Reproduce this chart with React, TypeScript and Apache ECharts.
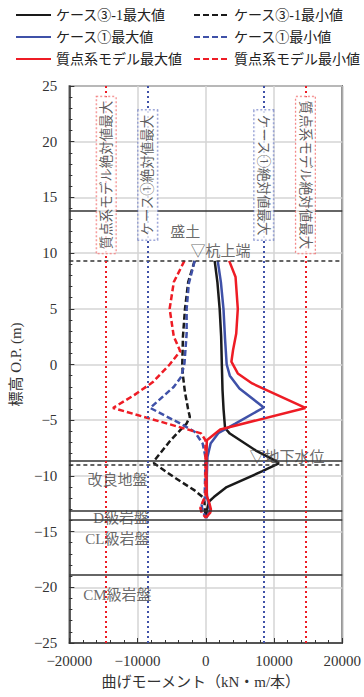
import React, { useEffect, useRef } from "react";
import * as echarts from "echarts";

// ---- Data ----
const xTicks = [-20000, -10000, 0, 10000, 20000];
const yTicks = [-25, -20, -15, -10, -5, 0, 5, 10, 15, 20, 25];

// ケース③-1
const case31MaxDepth = [9.3, 7.4, 5.0, 2.5, 0, -2.3, -4.0, -5.7, -6.2, -7.7, -8.6, -8.87, -9.6, -11.0, -11.9, -12.3, -13.0, -13.7];
const case31MaxValue = [1300, 1700, 2030, 2250, 2350, 2450, 2600, 2820, 3520, 7280, 10100, 10700, 8220, 3060, 1180, 470, 200, 0];
const case31MinDepth = [9.3, 7.4, 5.0, 2.5, 0, -1.0, -2.5, -4.0, -4.7, -5.3, -6.8, -8.6, -8.87, -10.1, -11.3, -11.9, -12.3, -13.0, -13.7];
const case31MinValue = [-1640, -2580, -3050, -3350, -3450, -3350, -3050, -2600, -2340, -2820, -5160, -7510, -7600, -4690, -1640, -460, -200, -150, 0];

// ケース①
const case1MaxDepth = [9.3, 7.4, 5.0, 2.3, 0, -1.0, -2.15, -3.86, -5.3, -6.13, -7.1, -8.3, -10, -11.5, -12.0, -12.6, -13.1, -13.8];
const case1MaxValue = [1750, 2210, 2590, 2820, 3060, 3520, 4930, 8500, 4330, 1880, 700, 240, 150, 150, 200, 500, 650, 50];
const case1MinDepth = [9.3, 7.3, 5.0, 2.8, 0.1, -1.1, -2.0, -3.9, -5.3, -6.04, -7.1, -8.3, -10, -11.5, -12.0, -12.6, -13.1, -13.8];
const case1MinValue = [-1630, -2480, -2810, -2810, -3130, -3600, -4680, -8150, -3750, -1640, -460, -50, -100, -150, -150, -600, -500, 50];

// 質点系モデル
const massMaxDepth = [9.3, 7.85, 5.0, 2.78, 1.28, 0.25, -0.8, -1.7, -3.9, -5.83, -6.8, -8.5, -10, -11.8, -12.4, -13.0, -13.3, -13.75];
const massMaxValue = [3430, 4360, 4690, 4460, 3990, 3750, 4690, 6800, 14600, 2110, 150, 100, 100, 150, 500, 750, 650, 0];
const massMinDepth = [9.3, 7.4, 5.0, 2.5, 1.2, 0, -1.6, -2.75, -3.9, -6.18, -6.8, -8.5, -10, -11.8, -12.4, -12.9, -13.3, -13.75];
const massMinValue = [-3140, -4690, -5300, -4690, -3750, -5300, -7800, -10500, -13600, -700, -50, -50, -50, -50, -500, -800, -600, 0];

// 地層境界
const layerSolid = [13.8, -8.6, -13.15, -13.9, -18.9];
const layerDashed = [9.3, -9.0];

// 絶対値最大
const massAbsMax = 14600;
const case1AbsMax = 8500;

// labels
const layerLabels = [
  { name: "盛土", x: -3030, y: 11.9 },
  { name: "▽杭上端", x: 2160, y: 10.15 },
  { name: "▽地下水位", x: 11900, y: -8.33 },
  { name: "改良地盤", x: -12960, y: -10.37 },
  { name: "D級岩盤", x: -12400, y: -13.75 },
  { name: "CL級岩盤", x: -12960, y: -15.68 },
  { name: "CM級岩盤", x: -12960, y: -20.67 },
];

const BLACK = "#1a1a1a";
const BLUE = "#3f51a8";
const RED = "#ee1c25";
const FONT = "Liberation Serif, Noto Sans CJK JP, serif";

const pairs = (vals: number[], depths: number[]) => vals.map((v, i) => [v, depths[i]]);
const minus = (v: number) => String(v).replace("-", "−");

export default function App() {
  const ref = useRef<HTMLDivElement>(null);
  useEffect(() => {
    if (!ref.current) return;
    const chart = echarts.init(ref.current, undefined, { renderer: "svg" });

    const lineSeries = (name: string, color: string, dashed: boolean, data: number[][]) => ({
      name,
      type: "line",
      data,
      symbol: "none",
      z: 3,
      lineStyle: { color, width: 2.5, type: dashed ? [6, 3] : "solid" },
      itemStyle: { color },
    });

    const names = [
      "ケース③-1最大値",
      "ケース③-1最小値",
      "ケース①最大値",
      "ケース①最小値",
      "質点系モデル最大値",
      "質点系モデル最小値",
    ];
    const legendPos = [
      [15, 8], [193, 8], [15, 30], [193, 30], [15, 52], [193, 52],
    ];

    const boxLabel = (text: string, border: string, x: number, rot: number) => ({
      value: [x, 17],
      name: text,
      label: {
        show: true,
        position: "inside",
        rotate: rot,
        formatter: text,
        fontSize: 13.5,
        fontFamily: FONT,
        color: "#333",
        backgroundColor: "#fff",
        borderColor: border,
        borderWidth: 1,
        borderType: "dotted",
        padding: [3, 4, 2, 4],
        lineHeight: 14,
      },
    });

    const axisCommon = {
      axisLine: { show: true, onZero: false, lineStyle: { color: "#333", width: 1.5 } },
      axisTick: { show: true, inside: true, length: 5, lineStyle: { color: "#333" } },
      minorTick: { show: true, splitNumber: 5, length: 3, lineStyle: { color: "#333" } },
      splitLine: { show: true, lineStyle: { color: "#d4d4d4", width: 1.5 } },
    };

    chart.setOption({
      animation: false,
      grid: {
        left: 66.5,
        right: 13.5,
        top: 86,
        bottom: 54,
        show: true,
        borderColor: "#333",
        borderWidth: 1.5,
        backgroundColor: "transparent",
      },
      legend: names.map((n, i) => ({
        data: [n],
        left: legendPos[i][0],
        top: legendPos[i][1],
        padding: 0,
        itemWidth: 35,
        itemHeight: 14,
        itemStyle: { opacity: 0 },
        textStyle: { fontSize: 14, color: "#222", fontFamily: FONT },
        selectedMode: false,
      })),
      xAxis: {
        type: "value",
        min: xTicks[0],
        max: xTicks[xTicks.length - 1],
        interval: 10000,
        name: "曲げモーメント（kN・m/本）",
        nameLocation: "middle",
        nameGap: 31,
        nameTextStyle: { fontSize: 15, color: "#333", fontFamily: FONT, padding: [0, 10, 0, 0] },
        ...axisCommon,
        axisLabel: { fontSize: 15, color: "#333", fontFamily: FONT, margin: 10, formatter: minus },
      },
      yAxis: {
        type: "value",
        min: yTicks[0],
        max: yTicks[yTicks.length - 1],
        interval: 5,
        name: "標高 O.P. (m)",
        nameLocation: "middle",
        nameRotate: 90,
        nameGap: 38,
        nameTextStyle: { fontSize: 15, color: "#333", fontFamily: FONT },
        ...axisCommon,
        axisLabel: { fontSize: 15, color: "#333", fontFamily: FONT, margin: 12, formatter: minus },
      },
      series: [
        {
          name: "refs",
          type: "line",
          data: [],
          z: 2,
          silent: true,
          markLine: {
            silent: true,
            symbol: ["none", "none"],
            label: { show: false },
            data: [
              ...layerSolid.map((y) => ({ yAxis: y, lineStyle: { color: "#333", width: 1.5, type: "solid" } })),
              ...layerDashed.map((y) => ({ yAxis: y, lineStyle: { color: "#333", width: 1.5, type: [4, 3] } })),
              ...[-massAbsMax, massAbsMax].map((x) => ({ xAxis: x, lineStyle: { color: RED, width: 2, type: [2, 3] } })),
              ...[-case1AbsMax, case1AbsMax].map((x) => ({ xAxis: x, lineStyle: { color: BLUE, width: 2, type: [2, 3] } })),
            ],
          },
        },
        lineSeries(names[0], BLACK, false, pairs(case31MaxValue, case31MaxDepth)),
        lineSeries(names[1], BLACK, true, pairs(case31MinValue, case31MinDepth)),
        lineSeries(names[2], BLUE, false, pairs(case1MaxValue, case1MaxDepth)),
        lineSeries(names[3], BLUE, true, pairs(case1MinValue, case1MinDepth)),
        lineSeries(names[4], RED, false, pairs(massMaxValue, massMaxDepth)),
        lineSeries(names[5], RED, true, pairs(massMinValue, massMinDepth)),
        {
          name: "annot",
          type: "scatter",
          symbolSize: 0,
          z: 5,
          silent: true,
          data: [
            boxLabel("質点系モデル絶対値最大", "#f06060", -massAbsMax, 90),
            boxLabel("ケース①絶対値最大", "#6070c0", -case1AbsMax, 90),
            boxLabel("ケース①絶対値最大", "#6070c0", case1AbsMax, -90),
            boxLabel("質点系モデル絶対値最大", "#f06060", massAbsMax, -90),
            ...layerLabels.map((l) => ({
              value: [l.x, l.y],
              name: l.name,
              label: {
                show: true,
                position: "inside",
                formatter: l.name,
                fontSize: 15,
                fontFamily: FONT,
                color: "#444",
              },
            })),
          ],
        },
      ],
    });
    return () => chart.dispose();
  }, []);
  return <div ref={ref} style={{ width: 364, height: 697, position: "absolute", left: 0, top: 0 }} />;
}
